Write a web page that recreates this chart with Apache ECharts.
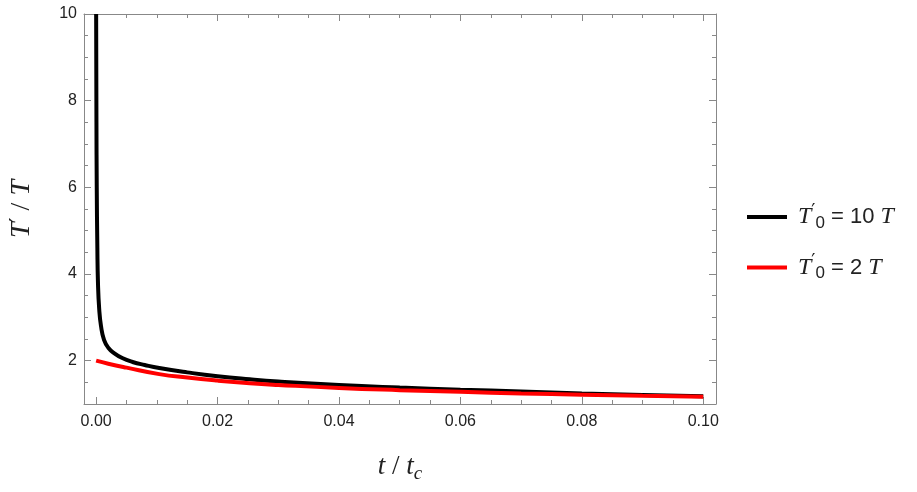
<!DOCTYPE html>
<html>
<head>
<meta charset="utf-8">
<script src="https://cdn.jsdelivr.net/npm/echarts@6/dist/echarts.min.js"></script>
<style>
  html, body { margin: 0; padding: 0; background: #fff; }
  #chart { width: 917px; height: 492px; }
</style>
</head>
<body>
<div id="chart"></div>
<script>
// values
const blackT = [0, 0.00005, 0.0001, 0.0002, 0.0003, 0.0005, 0.0008, 0.0013, 0.002, 0.003, 0.0043, 0.006, 0.008, 0.0104, 0.015, 0.02, 0.0253, 0.03, 0.04, 0.05, 0.06, 0.07, 0.08, 0.09, 0.1]
const blackV = [10, 7.5, 6.0, 4.6, 3.8, 3.2, 2.8, 2.48, 2.3, 2.17, 2.06, 1.97, 1.9, 1.83, 1.73, 1.64, 1.57, 1.52, 1.44, 1.38, 1.33, 1.29, 1.245, 1.21, 1.18]
const redT = [0, 0.002, 0.005, 0.0104, 0.015, 0.02, 0.0253, 0.03, 0.04, 0.05, 0.06, 0.07, 0.08, 0.09, 0.1]
const redV = [2.0, 1.93, 1.84, 1.69, 1.61, 1.54, 1.48, 1.44, 1.37, 1.32, 1.28, 1.245, 1.215, 1.19, 1.17]

const xMajor = [0, 0.02, 0.04, 0.06, 0.08, 0.1]
const xMinor = [0.005, 0.01, 0.015, 0.025, 0.03, 0.035, 0.045, 0.05, 0.055, 0.065, 0.07, 0.075, 0.085, 0.09, 0.095]
const yMajor = [2, 4, 6, 8, 10]
const yMinor = [1.5, 2.5, 3, 3.5, 4.5, 5, 5.5, 6.5, 7, 7.5, 8.5, 9, 9.5]

const frameColor = '#888'
const xMin = -0.002
const xMax = 0.1021
const yMin = 1
const yMax = 10

function pairs(xs, ys) {
  return xs.map(function(x, i) { return [x, ys[i]] })
}

function xAx(pos, ticks, len, showLine, showLabel) {
  return {
    type: 'value',
    position: pos,
    min: xMin,
    max: xMax,
    splitLine: { show: false },
    axisLine: { show: showLine, onZero: false, lineStyle: { color: frameColor, width: 1 } },
    axisTick: { show: true, inside: true, length: len, customValues: ticks, lineStyle: { color: frameColor } },
    axisLabel: showLabel ? {
      show: true,
      customValues: ticks,
      margin: 10,
      fontFamily: 'Liberation Sans',
      fontSize: 16,
      color: '#222',
      formatter: function(v) { return v.toFixed(2) }
    } : { show: false }
  }
}

function yAx(pos, ticks, len, showLine, showLabel) {
  return {
    type: 'value',
    position: pos,
    min: yMin,
    max: yMax,
    splitLine: { show: false },
    axisLine: { show: showLine, onZero: false, lineStyle: { color: frameColor, width: 1 } },
    axisTick: { show: true, inside: true, length: len, customValues: ticks, lineStyle: { color: frameColor } },
    axisLabel: showLabel ? {
      show: true,
      customValues: ticks,
      margin: 7,
      fontFamily: 'Liberation Sans',
      fontSize: 16,
      color: '#222',
      formatter: function(v) { return String(Math.round(v)) }
    } : { show: false }
  }
}

const chart = echarts.init(document.getElementById('chart'))

const xMain = xAx('bottom', xMajor, 7, true, true)
xMain.name = '{it|t} / {it|t}{sub|c}'
xMain.nameLocation = 'middle'
xMain.nameGap = 46
xMain.nameTextStyle = {
  rich: {
    it: { fontFamily: 'Liberation Serif', fontStyle: 'italic', fontSize: 27, color: '#222' },
    sub: { fontFamily: 'Liberation Serif', fontStyle: 'italic', fontSize: 19, color: '#222', padding: [14, 0, 0, 0] }
  },
  fontFamily: 'Liberation Serif',
  fontSize: 27,
  color: '#222'
}

const yMain = yAx('left', yMajor, 7, true, true)
yMain.name = '{it|T}{pr|′} / {it|T}'
yMain.nameLocation = 'middle'
yMain.nameGap = 48
yMain.nameRotate = 90
yMain.nameTextStyle = {
  rich: {
    it: { fontFamily: 'Liberation Serif', fontStyle: 'italic', fontSize: 28, color: '#222' },
    pr: { fontFamily: 'DejaVu Serif', fontSize: 22, color: '#222', padding: [0, 0, 6, 0] }
  },
  fontFamily: 'Liberation Serif',
  fontSize: 28,
  color: '#222'
}

const legendRich = {
  it: { fontFamily: 'Liberation Serif', fontStyle: 'italic', fontSize: 24, color: '#222' },
  pr: { fontFamily: 'DejaVu Serif', fontSize: 18, color: '#222', padding: [0, 0, 10, 0] },
  sub: { fontFamily: 'Liberation Sans', fontSize: 17, color: '#222', padding: [12, 0, 0, 0] },
  n: { fontFamily: 'Liberation Sans', fontSize: 22, color: '#222' }
}
const legendText = {
  black: '{it|T}{pr|′}{sub|0}{n| = 10 }{it|T}',
  red: '{it|T}{pr|′}{sub|0}{n| = 2 }{it|T}'
}

const option = {
  animation: false,
  backgroundColor: '#fff',
  grid: { left: 84, right: 201, top: 14, bottom: 88, containLabel: false, outerBoundsMode: 'none' },
  xAxis: [
    xMain,
    xAx('bottom', xMinor, 4, false, false),
    xAx('top', xMajor, 7, true, false),
    xAx('top', xMinor, 4, false, false)
  ],
  yAxis: [
    yMain,
    yAx('left', yMinor, 4, false, false),
    yAx('right', yMajor, 7, true, false),
    yAx('right', yMinor, 4, false, false)
  ],
  legend: {
    orient: 'vertical',
    left: 742,
    top: 198,
    icon: 'rect',
    itemWidth: 40,
    itemHeight: 4,
    itemGap: 22,
    formatter: function(name) { return legendText[name] },
    textStyle: { rich: legendRich, padding: [0, 0, 0, 6] },
    data: ['black', 'red']
  },
  series: [
    {
      name: 'black',
      type: 'line',
      data: pairs(blackT, blackV),
      showSymbol: false,
      smooth: 0.5,
      clip: true,
      lineStyle: { color: '#000', width: 4 },
      itemStyle: { color: '#000' }
    },
    {
      name: 'red',
      type: 'line',
      data: pairs(redT, redV),
      showSymbol: false,
      smooth: 0.5,
      clip: true,
      lineStyle: { color: '#ff0000', width: 4 },
      itemStyle: { color: '#ff0000' }
    }
  ]
}

chart.setOption(option)
</script>
</body>
</html>
